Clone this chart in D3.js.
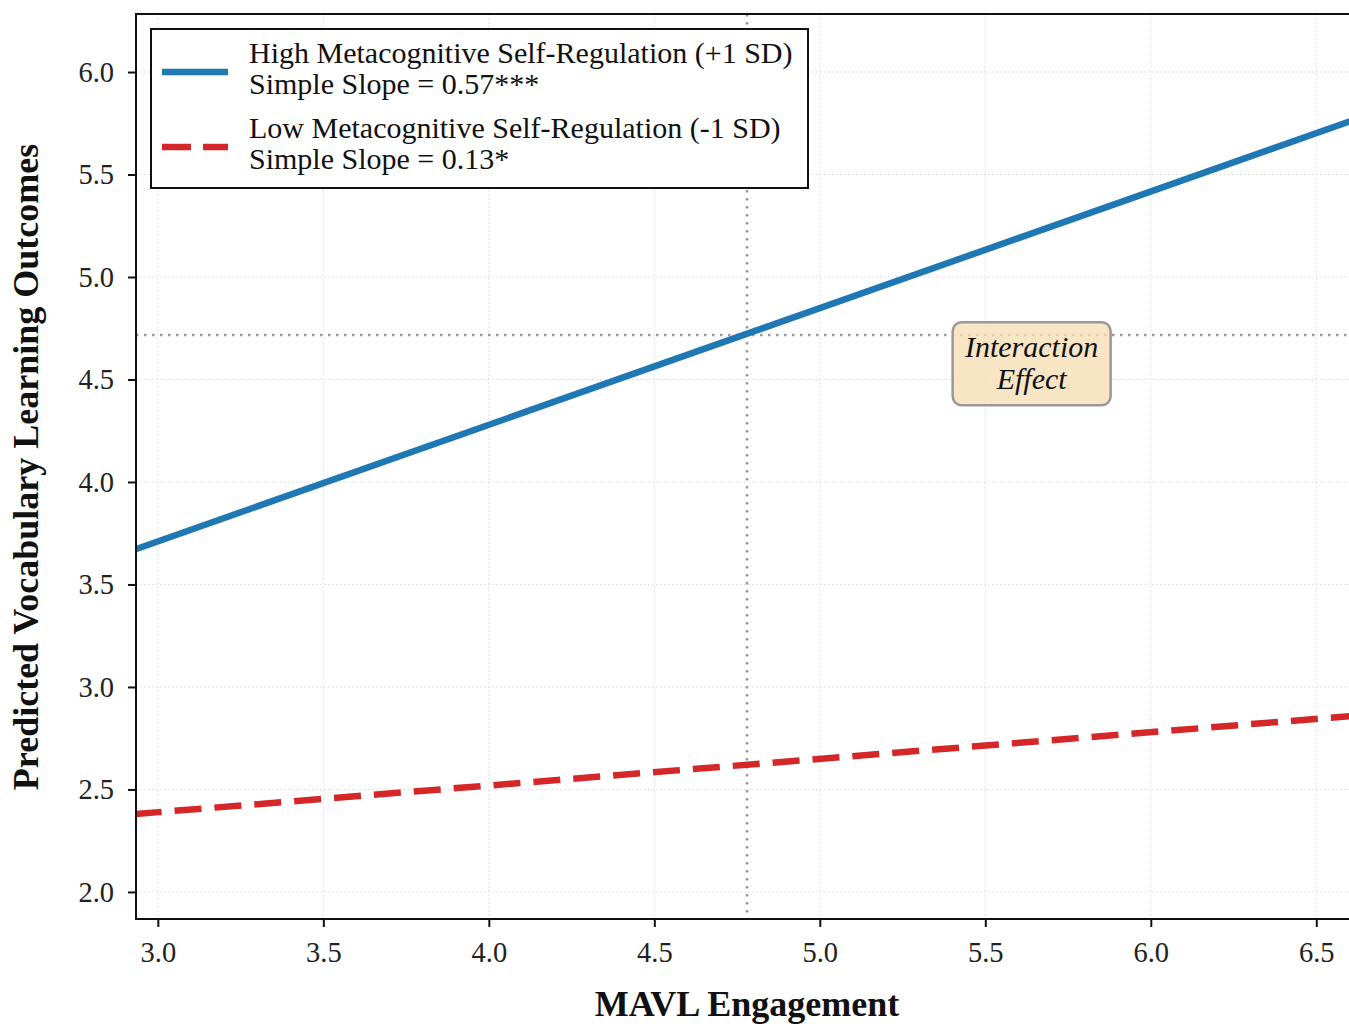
<!DOCTYPE html>
<html><head><meta charset="utf-8">
<script src="https://cdn.jsdelivr.net/npm/d3@7"></script>
<style>body{margin:0;background:#fff}svg{display:block}</style>
</head><body>
<script>
// ---- data ----
const xPoints = [2.93, 6.62];
const highValues = [3.67, 5.77];
const lowValues = [2.38, 2.86];
const xTicks = [3.0, 3.5, 4.0, 4.5, 5.0, 5.5, 6.0, 6.5];
const yTicks = [2.0, 2.5, 3.0, 3.5, 4.0, 4.5, 5.0, 5.5, 6.0];
const xDomain = [2.934, 6.62];
const yDomain = [1.868, 6.283];
const meanX = 4.78;
const meanY = 4.717;
const legendLabels = [
  ["High Metacognitive Self-Regulation (+1 SD)", "Simple Slope = 0.57***"],
  ["Low Metacognitive Self-Regulation (-1 SD)", "Simple Slope = 0.13*"]
];
const annotation = ["Interaction", "Effect"];
const annotationPos = [5.64, 4.56];
const xLabel = "MAVL Engagement";
const yLabel = "Predicted Vocabulary Learning Outcomes";

const W = 1349, H = 1027;
const L = 136, R = 1356, T = 14, B = 919;
const serif = "'Liberation Serif','Times New Roman',serif";

const svg = d3.select("body").append("svg").attr("width", W).attr("height", H);
const x = d3.scaleLinear().domain(xDomain).range([L, R]);
const y = d3.scaleLinear().domain(yDomain).range([B, T]);

svg.append("defs").append("clipPath").attr("id", "clip")
  .append("rect").attr("x", L).attr("y", T).attr("width", R - L).attr("height", B - T);

// grid
const grid = svg.append("g").attr("clip-path", "url(#clip)");
grid.selectAll(".gx").data(xTicks).join("line")
  .attr("x1", d => x(d)).attr("x2", d => x(d)).attr("y1", T).attr("y2", B)
  .attr("stroke", "#d9d9d9").attr("stroke-width", 1).attr("stroke-dasharray", "1.5,2.5");
grid.selectAll(".gy").data(yTicks).join("line")
  .attr("y1", d => y(d)).attr("y2", d => y(d)).attr("x1", L).attr("x2", R)
  .attr("stroke", "#d9d9d9").attr("stroke-width", 1).attr("stroke-dasharray", "1.5,2.5");

// reference lines
const ref = svg.append("g").attr("clip-path", "url(#clip)");
ref.append("line").attr("x1", x(meanX)).attr("x2", x(meanX)).attr("y1", T).attr("y2", B)
  .attr("stroke", "#9a9a9a").attr("stroke-width", 2.5).attr("stroke-dasharray", "2.5,5.5");
ref.append("line").attr("x1", L).attr("x2", R).attr("y1", y(meanY)).attr("y2", y(meanY))
  .attr("stroke", "#9a9a9a").attr("stroke-width", 2.5).attr("stroke-dasharray", "2.5,5.5");

// lines
const line = d3.line().x(d => x(d[0])).y(d => y(d[1]));
const plot = svg.append("g").attr("clip-path", "url(#clip)");
plot.append("path").datum(xPoints.map((v, i) => [v, highValues[i]]))
  .attr("d", line).attr("fill", "none").attr("stroke", "#1f77b4").attr("stroke-width", 6.5);
plot.append("path").datum(xPoints.map((v, i) => [v, lowValues[i]]))
  .attr("d", line).attr("fill", "none").attr("stroke", "#d62728").attr("stroke-width", 6.5)
  .attr("stroke-dasharray", "27,13");

// annotation
const ax = x(annotationPos[0]), ay = y(annotationPos[1]);
svg.append("rect").attr("x", ax - 79).attr("y", ay - 45).attr("width", 158).attr("height", 83)
  .attr("rx", 9).attr("fill", "#f5deb3").attr("fill-opacity", 0.78)
  .attr("stroke", "#999").attr("stroke-width", 2.5);
svg.append("g").selectAll("text").data(annotation).join("text")
  .attr("x", ax).attr("y", (d, i) => ay - 10 + i * 32)
  .attr("text-anchor", "middle").attr("font-family", serif).attr("font-style", "italic")
  .attr("font-size", 30).attr("fill", "#111").text(d => d);

// axes
const yAxis = svg.append("g").attr("transform", `translate(${L},0)`)
  .call(d3.axisLeft(y).tickValues(yTicks).tickFormat(d3.format(".1f")).tickSize(8).tickPadding(14));
const xAxis = svg.append("g").attr("transform", `translate(0,${B})`)
  .call(d3.axisBottom(x).tickValues(xTicks).tickFormat(d3.format(".1f")).tickSize(8).tickPadding(15));
[xAxis, yAxis].forEach(g => {
  g.select(".domain").remove();
  g.selectAll(".tick line").attr("stroke", "#111").attr("stroke-width", 2);
  g.selectAll(".tick text").attr("font-family", serif).attr("font-size", 28.5).attr("fill", "#222");
});

// spines
svg.append("rect").attr("x", L).attr("y", T).attr("width", R - L).attr("height", B - T)
  .attr("fill", "none").attr("stroke", "#111").attr("stroke-width", 2);

// axis labels
svg.append("text").attr("x", 747).attr("y", 1016).attr("text-anchor", "middle")
  .attr("font-family", serif).attr("font-weight", "bold").attr("font-size", 36).attr("fill", "#111").text(xLabel);
svg.append("text").attr("transform", "translate(38,467) rotate(-90)").attr("text-anchor", "middle")
  .attr("font-family", serif).attr("font-weight", "bold").attr("font-size", 36).attr("fill", "#111").text(yLabel);

// legend
const lg = svg.append("g");
lg.append("rect").attr("x", 151).attr("y", 29).attr("width", 657).attr("height", 159)
  .attr("fill", "#fff").attr("stroke", "#111").attr("stroke-width", 2);
const colors = ["#1f77b4", "#d62728"];
const dashes = [null, "29,12"];
legendLabels.forEach((lab, i) => {
  const cy = 72 + i * 75;
  lg.append("line").attr("x1", 162).attr("x2", 228).attr("y1", cy).attr("y2", cy)
    .attr("stroke", colors[i]).attr("stroke-width", 6.5).attr("stroke-dasharray", dashes[i]);
  lab.forEach((t, j) => {
    lg.append("text").attr("x", 249).attr("y", 63 + i * 75 + j * 31)
      .attr("font-family", serif).attr("font-size", 30).attr("fill", "#111").text(t);
  });
});
</script>
</body></html>
